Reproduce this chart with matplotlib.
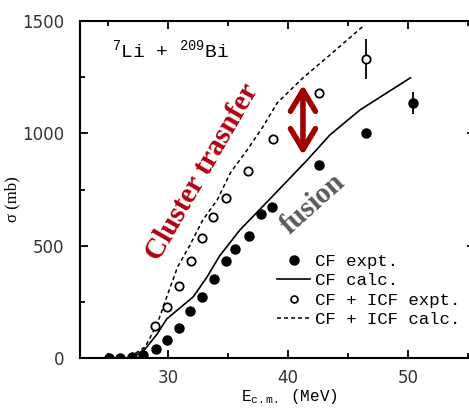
import matplotlib
matplotlib.use("Agg")
import matplotlib.pyplot as plt
from matplotlib.ticker import MultipleLocator
from matplotlib.lines import Line2D
from matplotlib.patches import FancyArrowPatch

plt.rcParams['mathtext.fontset'] = 'custom'
plt.rcParams['mathtext.rm'] = 'Liberation Mono'
plt.rcParams['mathtext.it'] = 'Liberation Mono'
plt.rcParams['mathtext.bf'] = 'Liberation Mono:bold'

# CF experiment (filled circles)
cf_expt_e = [25.1, 26.0, 27.0, 27.9, 29.0, 29.9, 30.9, 31.8, 32.8, 33.8, 34.8,
             35.6, 36.75, 37.75, 38.7, 42.6, 46.5, 50.4]
cf_expt_s = [0, 0, 4, 13, 40, 80, 134, 209, 272, 352, 432,
             485, 543, 641, 672, 859, 1002, 1135]
cf_expt_err = [0] * 17 + [47]

# CF + ICF experiment (open circles)
icf_expt_e = [28.9, 29.9, 30.9, 31.9, 32.8, 33.75, 34.8, 36.7, 38.75, 42.6, 46.5]
icf_expt_s = [142, 227, 321, 432, 534, 628, 712, 833, 975, 1180, 1331]
icf_expt_err = [0] * 10 + [87]

# CF calculation (solid)
cf_calc_e = [27.1, 28.1, 29.1, 29.9, 31.0, 32.1, 33.25, 34.3, 36.0, 38.5,
             41.6, 43.5, 46.0, 50.2]
cf_calc_s = [5, 40, 107, 174, 223, 272, 360, 454, 570, 708,
             881, 993, 1104, 1247]

# CF + ICF calculation (dashed)
icf_calc_e = [26.8, 28.1, 29.1, 29.9, 30.8, 31.8, 32.9, 34.1, 35.2, 36.6,
              37.9, 39.1, 41.25, 43.5, 46.2]
icf_calc_s = [4, 49, 151, 272, 405, 499, 614, 703, 824, 926,
              1028, 1135, 1247, 1349, 1474]

# double arrow between the two calculations
arrow_e = 41.25
arrow_lo = 904
arrow_hi = 1215

fig = plt.figure(figsize=(4.69, 4.08), dpi=100)
ax = fig.add_axes([80 / 469, 50 / 408, 395 / 469, 337 / 408])

ax.plot(cf_calc_e, cf_calc_s, color='black', lw=1.2)
ax.plot(icf_calc_e, icf_calc_s, color='black', lw=1.1, ls=(0, (2.6, 2)))
ax.errorbar(cf_expt_e, cf_expt_s, yerr=cf_expt_err, fmt='o', color='black',
            ms=6.5, elinewidth=1.3, capsize=0)
ax.errorbar(icf_expt_e, icf_expt_s, yerr=icf_expt_err, fmt='o', color='black',
            mfc='white', mec='black', mew=1.3, ms=6, elinewidth=1.3, capsize=0)

arr = FancyArrowPatch((arrow_e, arrow_lo), (arrow_e, arrow_hi),
                      arrowstyle='<->,head_length=0.75,head_width=0.45',
                      mutation_scale=20, lw=4, color='#a00000',
                      shrinkA=0, shrinkB=0)
ax.add_patch(arr)

ax.text(32.83, 828, 'Cluster trasnfer', rotation=60, rotation_mode='anchor',
        ha='center', va='center', color='#b0000f', fontsize=21,
        fontweight='bold', family='Liberation Serif')
ax.text(42.1, 685, 'fusion', rotation=42, rotation_mode='anchor',
        ha='center', va='center', color='#5a5a5a', fontsize=21,
        fontweight='bold', family='Liberation Serif')

ax.text(0.081, 0.893, r'$^{7}$Li + $^{209}$Bi', transform=ax.transAxes,
        ha='left', va='baseline', fontsize=14, family='Liberation Mono')

ax.set_xlim(22.67, 22.67 + 395 / 12)
ax.set_ylim(0, 1500)
ax.xaxis.set_major_locator(MultipleLocator(10))
ax.xaxis.set_minor_locator(MultipleLocator(5))
ax.yaxis.set_major_locator(MultipleLocator(500))
ax.yaxis.set_minor_locator(MultipleLocator(250))
ax.tick_params(which='both', direction='in', top=True, right=True,
               width=1.3, labelsize=12, labelcolor='#333333')
ax.tick_params(which='major', length=6)
ax.tick_params(which='minor', length=3.5)
ax.tick_params(axis='y', pad=11)
ax.tick_params(axis='x', pad=8)
for sp in ax.spines.values():
    sp.set_linewidth(1.5)

ax.set_xlabel(r'E$_{\rm c.m.}$ (MeV)', fontsize=11.5, family='Liberation Mono')
ax.xaxis.set_label_coords(0.53, -0.085)
ax.set_ylabel('σ (mb)', fontsize=12, family='Liberation Serif')
ax.yaxis.set_label_coords(-0.15, 0.47)

handles = [
    Line2D([], [], ls='none', marker='o', color='black', ms=6.5),
    Line2D([], [], color='black', lw=1.2),
    Line2D([], [], ls='none', marker='o', mfc='white', mec='black', mew=1.2, ms=5),
    Line2D([], [], color='black', lw=1.1, ls=(0, (2.6, 2))),
]
labels = ['CF expt.', 'CF calc.', 'CF + ICF expt.', 'CF + ICF calc.']
ax.legend(handles, labels, loc='upper left', bbox_to_anchor=(0.499, 0.31),
          frameon=False, prop={'family': 'Liberation Mono', 'size': 12.5},
          handlelength=1.9, handletextpad=0.3, labelspacing=0.25,
          borderpad=0, borderaxespad=0)

fig.savefig('out.png', dpi=100)
